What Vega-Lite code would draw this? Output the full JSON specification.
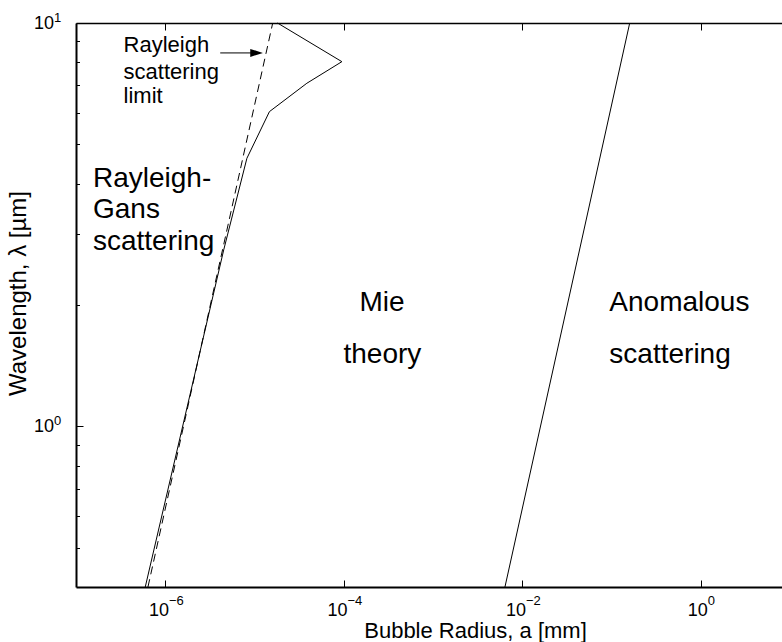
{
  "$schema": "https://vega.github.io/schema/vega-lite/v6.json",
  "width": 714,
  "height": 564,
  "autosize": {"type": "none"},
  "padding": {"left": 76, "top": 23, "right": 0, "bottom": 55},
  "background": "white",
  "config": {
    "view": {"stroke": null},
    "font": "Liberation Sans",
    "axis": {
      "grid": false,
      "domainColor": "black",
      "tickColor": "black",
      "labelColor": "black",
      "titleColor": "black",
      "labelFont": "Liberation Sans",
      "titleFont": "Liberation Sans",
      "titleFontWeight": "normal",
      "labelFlush": false,
      "labelOverlap": false
    }
  },
  "datasets": {
    "boundaries": [
      {"curve": "mie", "step": 1, "a": 5.97e-7, "lambda": 0.4},
      {"curve": "mie", "step": 2, "a": 4.52e-6, "lambda": 2.74},
      {"curve": "mie", "step": 3, "a": 8.22e-6, "lambda": 4.62},
      {"curve": "mie", "step": 4, "a": 1.47e-5, "lambda": 6.03},
      {"curve": "mie", "step": 5, "a": 3.86e-5, "lambda": 7.09},
      {"curve": "mie", "step": 6, "a": 9.53e-5, "lambda": 8.02},
      {"curve": "mie", "step": 7, "a": 1.81e-5, "lambda": 10},
      {"curve": "anomalous", "step": 1, "a": 0.0064, "lambda": 0.4},
      {"curve": "anomalous", "step": 2, "a": 0.16, "lambda": 10}
    ],
    "rayleigh_limit": [
      {"a": 6.4e-7, "lambda": 0.4},
      {"a": 1.6e-5, "lambda": 10}
    ],
    "note": [
      {"a": 3.41e-7, "lambda": 8.46, "text": "Rayleigh"},
      {"a": 3.41e-7, "lambda": 7.27, "text": "scattering"},
      {"a": 3.41e-7, "lambda": 6.33, "text": "limit"}
    ],
    "regions": [
      {"a": 1.55e-7, "lambda": 3.93, "text": "Rayleigh-"},
      {"a": 1.55e-7, "lambda": 3.28, "text": "Gans"},
      {"a": 1.55e-7, "lambda": 2.74, "text": "scattering"},
      {"a": 1.5e-4, "lambda": 1.938, "text": "Mie"},
      {"a": 9.93e-5, "lambda": 1.436, "text": "theory"},
      {"a": 0.0946, "lambda": 1.938, "text": "Anomalous"},
      {"a": 0.0946, "lambda": 1.436, "text": "scattering"}
    ],
    "arrow": [
      {"a": 4.13e-6, "lambda": 8.43},
      {"a": 1.055e-5, "lambda": 8.43}
    ],
    "arrowhead": [
      {"a": 1.055e-5, "lambda": 8.43}
    ]
  },
  "resolve": {"axis": {"x": "independent", "y": "independent"}},
  "layer": [
    {
      "data": {"name": "boundaries"},
      "mark": {"type": "line", "color": "black", "strokeWidth": 1},
      "encoding": {
        "x": {
          "field": "a", "type": "quantitative",
          "scale": {"type": "log", "domain": [1e-7, 10], "nice": false},
          "axis": {
            "orient": "bottom",
            "values": [1e-6, 1e-4, 0.01, 1],
            "labelExpr": "'10'",
            "labelFontSize": 18,
            "labelAlign": "right",
            "labelBaseline": "top",
            "labelOffset": {"condition": {"test": "datum.value == 1", "value": 6.6}, "value": 3.2},
            "labelPadding": 21.4,
            "tickSize": -7,
            "tickWidth": 1,
            "domainWidth": 2,
            "title": "Bubble Radius, a [mm]",
            "titleFontSize": 22,
            "titleX": 399,
            "titleY": 50,
            "titleBaseline": "alphabetic",
            "titleAnchor": "middle"
          }
        },
        "y": {
          "field": "lambda", "type": "quantitative",
          "scale": {"type": "log", "domain": [0.4, 10], "nice": false},
          "axis": {
            "orient": "left",
            "values": [1, 10],
            "labelExpr": "'10'",
            "labelFontSize": 18,
            "labelAlign": "right",
            "labelBaseline": "middle",
            "labelPadding": 29.4,
            "tickSize": -7,
            "tickWidth": 1,
            "domainWidth": 2,
            "title": "Wavelength, λ [µm]",
            "titleFontSize": 24,
            "titleAngle": -90,
            "titleX": -51,
            "titleY": 270,
            "titleBaseline": "alphabetic",
            "titleAnchor": "middle"
          }
        },
        "detail": {"field": "curve"},
        "order": {"field": "step"}
      }
    },
    {
      "data": {"name": "rayleigh_limit"},
      "mark": {"type": "line", "color": "black", "strokeWidth": 1, "strokeDash": [8, 5]},
      "encoding": {
        "x": {
          "field": "a", "type": "quantitative",
          "scale": {"type": "log", "domain": [1e-7, 10], "nice": false},
          "axis": {
            "orient": "bottom",
            "values": [1e-6, 1e-4, 0.01, 1],
            "labelExpr": "datum.value == 1 ? '0' : datum.value == 0.01 ? '−2' : datum.value == 0.0001 ? '−4' : '−6'",
            "labelFontSize": 13,
            "labelAlign": "left",
            "labelBaseline": "top",
            "labelOffset": {"condition": {"test": "datum.value == 1", "value": 6.6}, "value": 3.2},
            "labelPadding": 7,
            "ticks": false,
            "domain": false,
            "title": null
          }
        },
        "y": {
          "field": "lambda", "type": "quantitative",
          "scale": {"type": "log", "domain": [0.4, 10], "nice": false},
          "axis": {
            "orient": "left",
            "values": [1, 10],
            "labelExpr": "datum.value == 1 ? '0' : '1'",
            "labelFontSize": 13,
            "labelAlign": "left",
            "labelBaseline": "middle",
            "labelPadding": 22.4,
            "labelOffset": -6,
            "ticks": false,
            "domain": false,
            "title": null
          }
        }
      }
    },
    {
      "data": {"name": "note"},
      "mark": {"type": "text", "font": "Liberation Sans", "fontSize": 22, "align": "left", "baseline": "alphabetic", "color": "black"},
      "encoding": {
        "x": {
          "field": "a", "type": "quantitative",
          "scale": {"type": "log", "domain": [1e-7, 10], "nice": false},
          "axis": {
            "orient": "top",
            "values": [1e-6, 1e-4, 0.01, 1],
            "labels": false,
            "tickSize": -7,
            "tickWidth": 1,
            "domainWidth": 1.3,
            "title": null
          }
        },
        "y": {
          "field": "lambda", "type": "quantitative",
          "scale": {"type": "log", "domain": [0.4, 10], "nice": false},
          "axis": {
            "orient": "left",
            "values": [0.5, 0.6, 0.7, 0.8, 0.9, 2, 3, 4, 5, 6, 7, 8, 9],
            "labels": false,
            "tickSize": -3.5,
            "tickWidth": 1,
            "domain": false,
            "title": null
          }
        },
        "text": {"field": "text"}
      }
    },
    {
      "data": {"name": "regions"},
      "mark": {"type": "text", "font": "Liberation Sans", "fontSize": 28, "align": "left", "baseline": "alphabetic", "color": "black"},
      "encoding": {
        "x": {"field": "a", "type": "quantitative", "scale": {"type": "log", "domain": [1e-7, 10], "nice": false}, "axis": null},
        "y": {"field": "lambda", "type": "quantitative", "scale": {"type": "log", "domain": [0.4, 10], "nice": false}, "axis": null},
        "text": {"field": "text"}
      }
    },
    {
      "data": {"name": "arrow"},
      "mark": {"type": "line", "color": "black", "strokeWidth": 1},
      "encoding": {
        "x": {"field": "a", "type": "quantitative", "scale": {"type": "log", "domain": [1e-7, 10], "nice": false}, "axis": null},
        "y": {"field": "lambda", "type": "quantitative", "scale": {"type": "log", "domain": [0.4, 10], "nice": false}, "axis": null}
      }
    },
    {
      "data": {"name": "arrowhead"},
      "mark": {"type": "point", "shape": "M -1 -0.63 L 1 0 L -1 0.63 Z", "size": 161, "filled": true, "color": "black", "opacity": 1, "strokeWidth": 0},
      "encoding": {
        "x": {"field": "a", "type": "quantitative", "scale": {"type": "log", "domain": [1e-7, 10], "nice": false}, "axis": null},
        "y": {"field": "lambda", "type": "quantitative", "scale": {"type": "log", "domain": [0.4, 10], "nice": false}, "axis": null}
      }
    }
  ]
}
